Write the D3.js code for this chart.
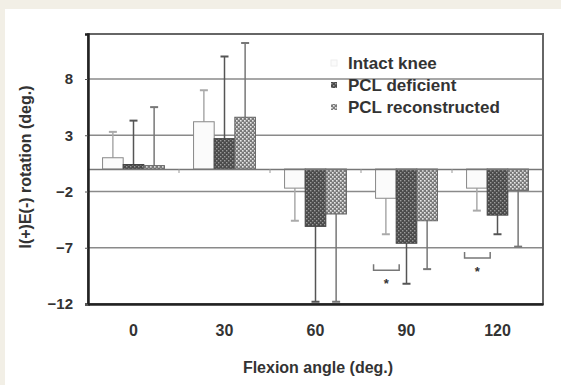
<!DOCTYPE html>
<html lang="en">
<head>
  <meta charset="utf-8">
  <title>I(+)E(-) rotation vs flexion angle</title>
  <script src="https://d3js.org/d3.v7.min.js"></script>
<style>
  body { margin: 0; background: #f2efe6; }
  text { font-family: "Liberation Sans", Arial, sans-serif; font-weight: bold; fill: #333; }
</style>
</head>
<body>
<div id="chart"></div>
<script>
  // data
  var angles = ["0", "30", "60", "90", "120"];
  var groups = ["Intact knee", "PCL deficient", "PCL reconstructed"];
  var intact = [1.0, 4.2, -1.7, -2.6, -1.7];
  var intactSD = [2.3, 2.8, 2.9, 3.2, 2.0];
  var deficient = [0.4, 2.7, -5.1, -6.6, -4.1];
  var deficientSD = [3.9, 7.3, 6.8, 3.6, 1.7];
  var reconstructed = [0.3, 4.6, -4.0, -4.6, -1.9];
  var reconstructedSD = [5.2, 6.6, 7.9, 4.3, 5.0];
  var yTicks = [8, 3, -2, -7, -12];
  // significance brackets: angle, level of the bracket
  var sigAngles = ["90", "120"];
  var sigLevels = [-9.0, -7.9];

  var width = 561, height = 385;
  // plot frame (note: "top" is reserved on window, so prefix these)
  var pLeft = 88, pRight = 543, pTop = 34, pBottom = 304;

  var svg = d3.select("#chart").append("svg")
    .attr("width", width)
    .attr("height", height);

  svg.append("rect")
    .attr("x", 5).attr("y", 9)
    .attr("width", width - 5).attr("height", height - 9)
    .attr("fill", "#fff");

  var defs = svg.append("defs");
  // dark checker for PCL deficient
  var p1 = defs.append("pattern").attr("id", "pDef")
    .attr("width", 4).attr("height", 4).attr("patternUnits", "userSpaceOnUse");
  p1.append("rect").attr("width", 4).attr("height", 4).attr("fill", "#4a4a4a");
  p1.append("rect").attr("x", 0).attr("y", 0).attr("width", 1.4).attr("height", 1.4).attr("fill", "#9a9a9a");
  p1.append("rect").attr("x", 2).attr("y", 2).attr("width", 1.4).attr("height", 1.4).attr("fill", "#9a9a9a");
  // lighter dotted for PCL reconstructed
  var p2 = defs.append("pattern").attr("id", "pRec")
    .attr("width", 4).attr("height", 4).attr("patternUnits", "userSpaceOnUse");
  p2.append("rect").attr("width", 4).attr("height", 4).attr("fill", "#7a7a7a");
  p2.append("rect").attr("x", 0).attr("y", 0).attr("width", 1.6).attr("height", 1.6).attr("fill", "#e8e8e8");
  p2.append("rect").attr("x", 2).attr("y", 2).attr("width", 1.6).attr("height", 1.6).attr("fill", "#e8e8e8");

  var fills = ["#fbfbfb", "url(#pDef)", "url(#pRec)"];
  var strokes = ["#888", "#444", "#666"];
  var errColors = ["#aaa", "#555", "#777"];

  var x = d3.scaleBand().domain(angles).range([pLeft, pRight]);
  var xIn = d3.scaleBand().domain(groups)
    .range([x.bandwidth() * 0.16, x.bandwidth() * 0.84]);
  var y = d3.scaleLinear().domain([-12, 12]).range([pBottom, pTop]);

  // grid lines
  svg.append("g")
    .selectAll("line")
    .data(yTicks.filter(function (d) { return d > -12; }))
    .join("line")
    .attr("x1", pLeft).attr("x2", pRight)
    .attr("y1", function (d) { return y(d); })
    .attr("y2", function (d) { return y(d); })
    .attr("stroke", "#8a8a8a")
    .attr("stroke-width", 1.3);

  // build rows
  var means = [intact, deficient, reconstructed];
  var sds = [intactSD, deficientSD, reconstructedSD];
  var rows = [];
  angles.forEach(function (a, i) {
    groups.forEach(function (g, j) {
      rows.push({ angle: a, group: g, j: j, v: means[j][i], sd: sds[j][i] });
    });
  });

  // error bars (drawn first, bars cover the part inside)
  var err = svg.append("g");
  rows.forEach(function (d) {
    var cx = x(d.angle) + xIn(d.group) + xIn.bandwidth() / 2;
    var end = d.v >= 0 ? d.v + d.sd : Math.max(d.v - d.sd, -11.8);
    err.append("line")
      .attr("x1", cx).attr("x2", cx)
      .attr("y1", y(d.v)).attr("y2", y(end))
      .attr("stroke", errColors[d.j]).attr("stroke-width", 1.5);
    err.append("line")
      .attr("x1", cx - 4).attr("x2", cx + 4)
      .attr("y1", y(end)).attr("y2", y(end))
      .attr("stroke", errColors[d.j]).attr("stroke-width", 2);
  });

  // bars
  svg.append("g")
    .selectAll("rect")
    .data(rows)
    .join("rect")
    .attr("x", function (d) { return x(d.angle) + xIn(d.group); })
    .attr("width", xIn.bandwidth())
    .attr("y", function (d) { return y(Math.max(0, d.v)); })
    .attr("height", function (d) { return Math.abs(y(d.v) - y(0)); })
    .attr("fill", function (d) { return fills[d.j]; })
    .attr("stroke", function (d) { return strokes[d.j]; })
    .attr("stroke-width", 1);

  // zero line with small ticks between categories
  var zeroAxis = d3.axisBottom(x).tickValues([]).tickSizeOuter(0);
  var zg = svg.append("g").attr("transform", "translate(0," + y(0) + ")").call(zeroAxis);
  zg.select(".domain").attr("stroke", "#777").attr("stroke-width", 1.3);
  zg.selectAll(".sep")
    .data(angles.slice(1))
    .join("line")
    .attr("class", "sep")
    .attr("x1", function (d) { return x(d); })
    .attr("x2", function (d) { return x(d); })
    .attr("y1", 0).attr("y2", 4)
    .attr("stroke", "#999");

  // frame
  svg.append("rect")
    .attr("x", pLeft).attr("y", pTop)
    .attr("width", pRight - pLeft).attr("height", pBottom - pTop)
    .attr("fill", "none")
    .attr("stroke", "#666")
    .attr("stroke-width", 2);

  // y axis
  var yAxis = d3.axisLeft(y).tickValues(yTicks).tickSize(3).tickPadding(12);
  var yg = svg.append("g").attr("transform", "translate(" + pLeft + ",0)").call(yAxis);
  yg.select(".domain").attr("stroke", "#222").attr("stroke-width", 2.5);
  yg.selectAll(".tick line").attr("stroke", "#555");
  yg.selectAll(".tick text").attr("font-size", 15).attr("fill", "#333");

  // x axis
  var xAxis = d3.axisBottom(x).tickSize(0).tickPadding(21).tickSizeOuter(0);
  var xg = svg.append("g").attr("transform", "translate(0," + pBottom + ")").call(xAxis);
  xg.select(".domain").attr("stroke", "#222").attr("stroke-width", 2.5);
  xg.selectAll(".tick text").attr("font-size", 16).attr("fill", "#333");

  // significance brackets
  sigAngles.forEach(function (a, i) {
    var x0 = x(a) + xIn(groups[0]) - 2;
    var x1 = x(a) + xIn(groups[0]) + xIn.bandwidth() + 3;
    var yy = y(sigLevels[i]);
    svg.append("path")
      .attr("d", "M" + x0 + "," + (yy - 6) + "V" + yy + "H" + x1 + "V" + (yy - 6))
      .attr("fill", "none").attr("stroke", "#777").attr("stroke-width", 1.5);
    svg.append("text")
      .attr("x", (x0 + x1) / 2).attr("y", yy + 18)
      .attr("text-anchor", "middle")
      .attr("font-size", 13)
      .text("*");
  });

  // legend
  var leg = svg.append("g").attr("transform", "translate(331,63)");
  groups.forEach(function (g, i) {
    leg.append("rect")
      .attr("x", 0).attr("y", i * 22 - 3)
      .attr("width", 6).attr("height", 6)
      .attr("fill", fills[i])
      .attr("stroke", i === 0 ? "#eee" : "none");
    leg.append("text")
      .attr("x", 17).attr("y", i * 22 + 6)
      .attr("font-size", 17)
      .text(g);
  });

  // axis titles
  svg.append("text")
    .attr("transform", "translate(31,167) rotate(-90)")
    .attr("text-anchor", "middle")
    .attr("font-size", 16)
    .text("I(+)E(-) rotation  (deg.)");
  svg.append("text")
    .attr("x", 318).attr("y", 373)
    .attr("text-anchor", "middle")
    .attr("font-size", 16)
    .text("Flexion angle  (deg.)");
</script>
</body>
</html>
